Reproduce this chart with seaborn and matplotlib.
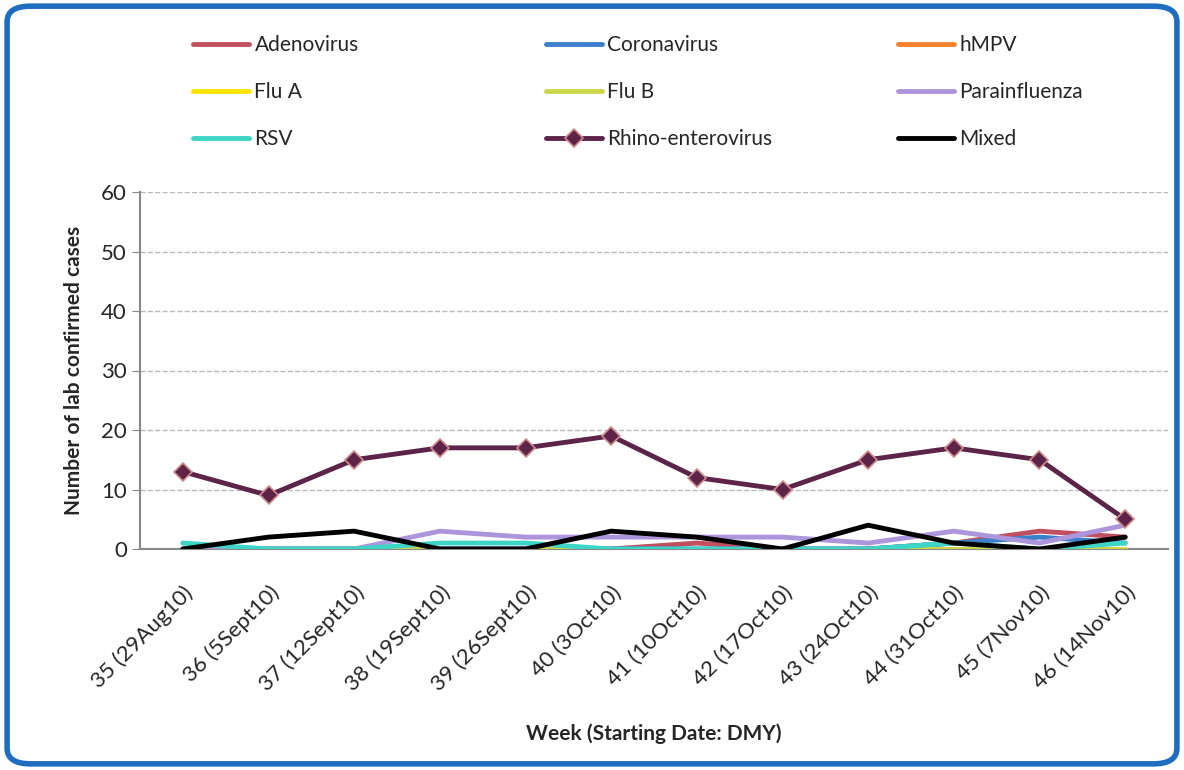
import matplotlib
matplotlib.use("Agg")
import matplotlib.pyplot as plt
from matplotlib.patches import FancyBboxPatch
import pandas as pd
import seaborn as sns

# Week labels and case counts per virus
weeks = ["35 (29Aug10)", "36 (5Sept10)", "37 (12Sept10)", "38 (19Sept10)",
         "39 (26Sept10)", "40 (3Oct10)", "41 (10Oct10)", "42 (17Oct10)",
         "43 (24Oct10)", "44 (31Oct10)", "45 (7Nov10)", "46 (14Nov10)"]
adenovirus = [0, 0, 0, 0, 0, 0, 1, 0, 0, 1, 3, 2]
coronavirus = [0, 0, 0, 0, 0, 0, 0, 0, 0, 1, 2, 1]
hmpv = [0, 0, 0, 0, 0, 0, 0, 0, 0, 0, 0, 0]
flu_a = [0, 0, 0, 0, 0, 0, 0, 0, 0, 0, 0, 0]
flu_b = [0, 0, 0, 0, 0, 0, 0, 0, 0, 0, 0, 0]
parainfluenza = [0, 0, 0, 3, 2, 2, 2, 2, 1, 3, 1, 4]
rsv = [1, 0, 0, 1, 1, 0, 0, 0, 0, 1, 0, 1]
rhino = [13, 9, 15, 17, 17, 19, 12, 10, 15, 17, 15, 5]
mixed = [0, 2, 3, 0, 0, 3, 2, 0, 4, 1, 0, 2]

series = {
    "Adenovirus": (adenovirus, "#C0505F"),
    "Coronavirus": (coronavirus, "#3A80CC"),
    "hMPV": (hmpv, "#F5822E"),
    "Flu A": (flu_a, "#FFE400"),
    "Flu B": (flu_b, "#CDD64B"),
    "Parainfluenza": (parainfluenza, "#AD95DB"),
    "RSV": (rsv, "#3DD5C5"),
    "Rhino-enterovirus": (rhino, "#5B2448"),
    "Mixed": (mixed, "#000000"),
}

sns.set_style("white")
plt.rcParams["font.family"] = ["Lato", "DejaVu Sans"]

fig = plt.figure(figsize=(11.84, 7.7), dpi=100)
ax = fig.add_axes([140 / 1184, 1 - 549 / 770, (1168 - 140) / 1184, (549 - 192) / 770])

x = list(range(len(weeks)))
for name, (vals, color) in series.items():
    df = pd.DataFrame({"x": x, "y": vals})
    if name == "Rhino-enterovirus":
        sns.lineplot(data=df, x="x", y="y", ax=ax, color=color, linewidth=3.5,
                     marker="D", markersize=9, markeredgecolor="#D08C8C",
                     markeredgewidth=1.2, label=name, zorder=5)
    else:
        sns.lineplot(data=df, x="x", y="y", ax=ax, color=color, linewidth=3.5,
                     label=name, zorder=6 if name == "Mixed" else 3)

h, l = ax.get_legend_handles_labels()
ax.get_legend().remove()
lookup = dict(zip(l, h))
columns = [["Adenovirus", "Flu A", "RSV"],
           ["Coronavirus", "Flu B", "Rhino-enterovirus"],
           ["hMPV", "Parainfluenza", "Mixed"]]
for col, left in zip(columns, [193, 546, 898]):
    fig.legend([lookup[k] for k in col], col, ncol=1, frameon=False,
               loc="upper left", bbox_to_anchor=(left / 1184, 1 - 35 / 770),
               fontsize=15, handlelength=2.7, handletextpad=0.25,
               labelspacing=1.3, borderaxespad=0, borderpad=0)

ax.set_xlim(-0.5, len(weeks) - 0.5)
ax.set_ylim(0, 60)
ax.set_yticks(range(0, 61, 10))
ax.set_xticks([i - 0.5 for i in range(1, len(weeks))], minor=True)
ax.set_xticks(x)
ax.set_xticklabels(weeks, rotation=45, ha="right", rotation_mode="anchor", fontsize=16)
ax.tick_params(axis="x", which="major", length=0, pad=24)
ax.tick_params(axis="x", which="minor", length=6, color="#888888", direction="out")
ax.tick_params(axis="y", length=6, color="#888888", direction="out", labelsize=16, left=True)
ax.yaxis.grid(True, linestyle="--", color="#BBBBBB", linewidth=1)
for s in ["top", "right"]:
    ax.spines[s].set_visible(False)
for s in ["left", "bottom"]:
    ax.spines[s].set_color("#888888")
    ax.spines[s].set_linewidth(1.5)

ax.set_xlabel("Week (Starting Date: DMY)", fontsize=15, fontweight="bold", labelpad=20)
ax.set_ylabel("Number of lab confirmed cases", fontsize=15, fontweight="bold", labelpad=12)

border = FancyBboxPatch((0.006, 0.008), 0.988, 0.984, boxstyle="round,pad=0,rounding_size=0.02",
                        transform=fig.transFigure, fill=False, edgecolor="#1F6DBF",
                        linewidth=4, zorder=10)
fig.patches.append(border)

fig.savefig("out.png", dpi=100)
